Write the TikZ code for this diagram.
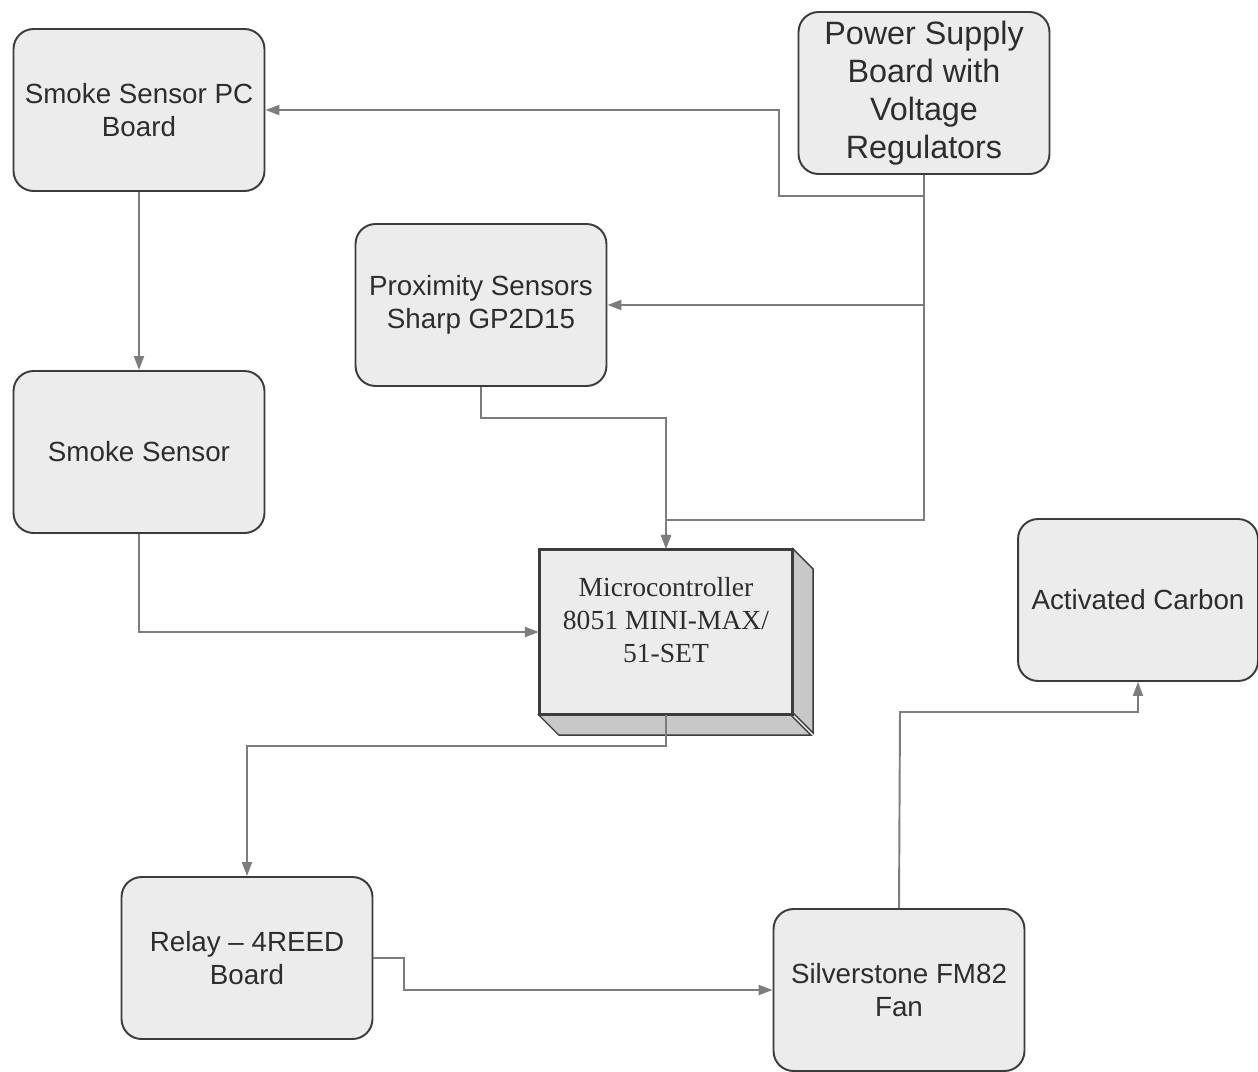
\documentclass[tikz,border=0pt]{standalone}
\usepackage{fontspec}
\setmainfont{Liberation Sans}
\newfontfamily\mcufont{Liberation Serif}
\usetikzlibrary{arrows.meta}

\definecolor{boxfill}{RGB}{236,236,236}
\definecolor{boxline}{RGB}{60,60,60}
\definecolor{wire}{RGB}{125,125,125}
\definecolor{depth}{RGB}{200,200,200}
\definecolor{ink}{RGB}{45,45,45}

\tikzset{
  block/.style={draw=boxline, line width=1.1pt, fill=boxfill, rounded corners=0.4cm,
    minimum width=5.02cm, minimum height=3.24cm, align=center, inner sep=0pt,
    text=ink, font=\fontsize{15.8}{18.7}\selectfont},
  bigblock/.style={block, font=\fontsize{18.4}{21.5}\selectfont},
  mcubox/.style={draw=boxline, line width=1.3pt, fill=boxfill,
    minimum width=5.04cm, minimum height=3.28cm, inner sep=0pt},
  wireline/.style={draw=wire, line width=1.1pt},
  feed/.style={wireline, -{Triangle[length=0.28cm, width=0.2cm]}}
}

\begin{document}
\begin{tikzpicture}[x=0.02cm, y=-0.02cm]
		\useasboundingbox (0,0) rectangle (1258,1072);
		
		\node[block] (pcboard) at (139,110) {Smoke Sensor PC\\Board};
		\node[bigblock] (power) at (924,93) {Power Supply\\Board with\\Voltage\\Regulators};
		\node[block] (prox) at (481,305) {Proximity Sensors\\Sharp GP2D15};
		\node[block] (smoke) at (139,452) {Smoke Sensor};
		\node[block, minimum width=4.8cm] (carbon) at (1138,600) {Activated Carbon};
		\node[block] (relay) at (247,958) {Relay -- 4REED\\Board};
		\node[block] (fan) at (899,990) {Silverstone FM82\\Fan};
		
		% 3d microcontroller box
		\node[mcubox] (mcu) at (666,632) {};
		\fill[depth, draw=boxline, line width=0.8pt] (mcu.north east) -- ++(20,20) -- ++(0,164) -- ++(-20,-20) -- cycle;
		\fill[depth, draw=boxline, line width=0.8pt] (mcu.south west) -- ++(20,20) -- ++(252,0) -- ++(-20,-20) -- cycle;
		\draw[boxline, line width=1.3pt] (mcu.north west) rectangle (mcu.south east);
		\node[align=center, text=ink, font=\mcufont\fontsize{15.7}{18.7}\selectfont] (mcutext) at (666,620)
			{Microcontroller\\8051 MINI-MAX/\\51-SET};
		
		\coordinate (psjoin) at (924,196);
		\coordinate (psbend) at (779,196);
		\coordinate (psbot) at (924,520);
		\coordinate (fanbend) at (900,712);
		
		\draw[feed] (power.south) -- (psjoin) -- (psbend) |- (pcboard.east);
		\draw[feed] (psjoin) |- (prox.east);
		\draw[feed] (psjoin) -- (psbot) -| (mcu.north);
		\draw[feed] (prox.south) -- ++(0,31) -| (mcu.north);
		\draw[feed] (pcboard.south) -- (smoke.north);
		\draw[feed] (smoke.south) |- (mcu.west);
		\draw[feed] (mcu.south) -- ++(0,31) -| (relay.north);
		\draw[feed] (relay.east) -- ++(31,0) |- (fan.west);
		\draw[feed] (fan.north) -- (fanbend) -| (carbon.south);
	\end{tikzpicture}
\end{document}
